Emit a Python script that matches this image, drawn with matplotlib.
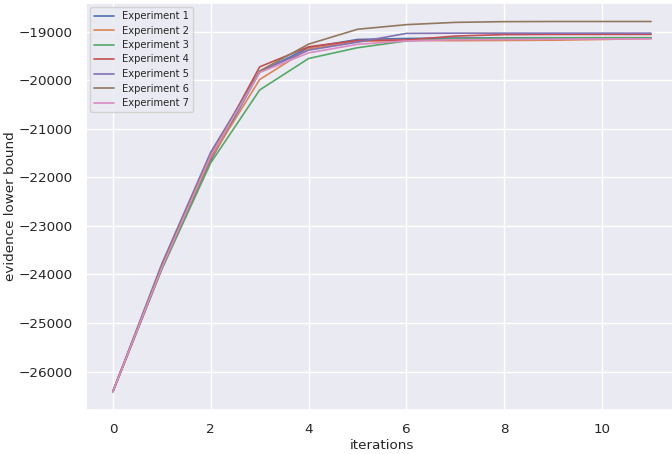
import matplotlib
matplotlib.use("Agg")
import matplotlib.pyplot as plt
import seaborn as sns
import numpy as np

iterations = list(range(12))

exp1 = [-26410, -23880, -21650, -19830, -19330, -19160, -19140, -19130, -19125, -19125, -19125, -19125]
exp2 = [-26410, -23870, -21610, -19985, -19350, -19200, -19180, -19185, -19180, -19175, -19160, -19140]
exp3 = [-26410, -23890, -21700, -20200, -19552, -19330, -19190, -19140, -19130, -19128, -19125, -19125]
exp4 = [-26410, -23860, -21580, -19724, -19310, -19180, -19170, -19090, -19060, -19056, -19056, -19056]
exp5 = [-26410, -23780, -21480, -19820, -19380, -19215, -19035, -19030, -19030, -19030, -19030, -19030]
exp6 = [-26410, -23820, -21540, -19810, -19256, -18950, -18855, -18808, -18793, -18790, -18790, -18790]
exp7 = [-26410, -23860, -21560, -19840, -19436, -19260, -19190, -19165, -19160, -19155, -19150, -19148]

series = [exp1, exp2, exp3, exp4, exp5, exp6, exp7]
labels = ["Experiment %d" % (i + 1) for i in range(len(series))]

sns.set_theme(style="darkgrid")

fig = plt.figure(figsize=(6.72, 4.54), dpi=100)
ax = fig.add_axes([86 / 672, 44 / 454, 592 / 672, 407 / 454])

for vals, lab in zip(series, labels):
    ax.plot(iterations, vals, lw=1.2, label=lab)

ax.set_xlabel("iterations", fontsize=9.7, labelpad=2)
ax.set_ylabel("evidence lower bound", fontsize=9.7, labelpad=1)
ax.tick_params(labelsize=9.7)
ax.set_xticks([0, 2, 4, 6, 8, 10])

ax.legend(loc="upper left", fontsize=7.2, borderaxespad=0.4, handlelength=2.0,
          labelspacing=0.45)

fig.savefig("out.png", dpi=100)
